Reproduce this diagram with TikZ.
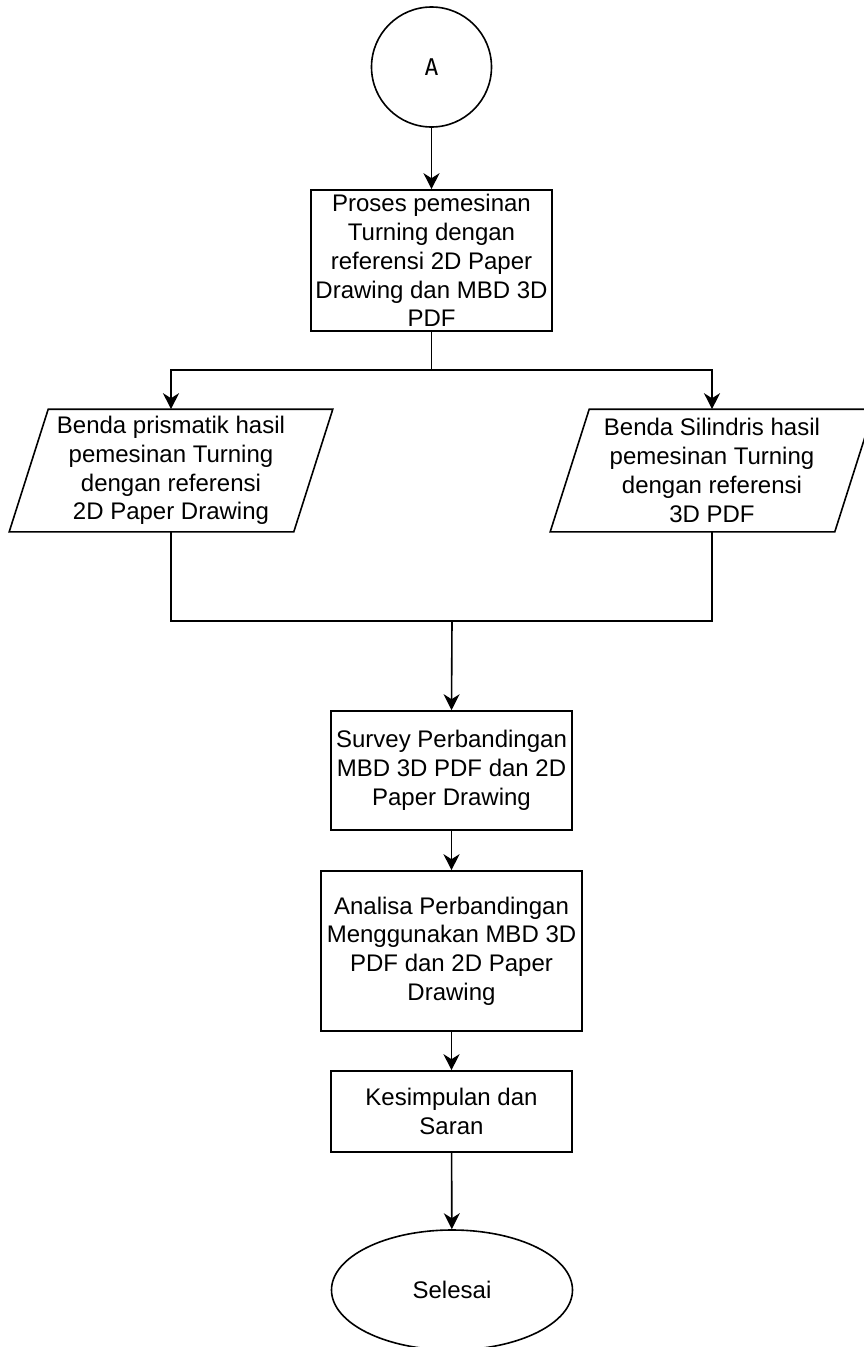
\documentclass[tikz,border=0pt]{standalone}
\usepackage{fontspec}
\setmainfont{Liberation Sans}
\newfontfamily\monofnt{DejaVu Sans Mono}
\usetikzlibrary{arrows.meta,shapes.geometric}
\begin{document}
\begin{tikzpicture}[x=1pt,y=-1pt,line width=1.6pt,
  txt/.style={inner sep=0pt,align=center,font=\fontsize{24}{28.8}\selectfont},
  box/.style={txt,draw,rectangle},
  pbox/.style={txt,rectangle,minimum width=322pt,minimum height=121pt},
  arr/.style={-{Stealth[length=16pt,width=16pt,inset=5pt]}}]
\useasboundingbox (0,0) rectangle (864,1347);
\clip (0,0) rectangle (864,1347);
% nodes
\node[draw,circle,minimum size=120pt,inner sep=0pt,font=\monofnt\fontsize{23}{26}\selectfont] (A) at (431.5,67) {A};
\node[box,minimum width=241pt,minimum height=141pt] (P) at (431.5,260.5)
  {Proses pemesinan\\Turning dengan\\referensi 2D Paper\\Drawing dan MBD 3D\\PDF};
\node[pbox] (L) at (171,470.5)
  {Benda prismatik hasil\\pemesinan Turning\\dengan referensi\\2D Paper Drawing};
\draw ([xshift=39pt]L.north west) -- (L.north east) -- ([xshift=-39pt]L.south east) -- (L.south west) -- cycle;
\node[pbox] (R) at (712,470.5)
  {Benda Silindris hasil\\pemesinan Turning\\dengan referensi\\3D PDF};
\draw ([xshift=39pt]R.north west) -- (R.north east) -- ([xshift=-39pt]R.south east) -- (R.south west) -- cycle;
\node[box,minimum width=241pt,minimum height=119pt] (S) at (451.5,770.5)
  {Survey Perbandingan\\MBD 3D PDF dan 2D\\Paper Drawing};
\node[box,minimum width=261pt,minimum height=160pt] (N) at (451.5,951)
  {Analisa Perbandingan\\Menggunakan MBD 3D\\PDF dan 2D Paper\\Drawing};
\node[box,minimum width=241pt,minimum height=81pt] (K) at (451.5,1111.5)
  {Kesimpulan dan\\Saran};
\node[txt,draw,ellipse,minimum width=241pt,minimum height=120pt] (E) at (452,1290) {Selesai};
% junctions
\coordinate (j1) at (431.5,370);
\coordinate (m) at (452,621);
% connectors
\draw[arr] (A) -- (P);
\draw (P.south) -- (j1);
\draw[arr] (j1) -| (L.north);
\draw[arr] (j1) -| (R.north);
\draw (L.south) |- (m);
\draw (R.south) |- (m);
\draw[arr] (m) -- (S.north);
\draw[arr] (S) -- (N);
\draw[arr] (N) -- (K);
\draw[arr] (K) -- (E);
\end{tikzpicture}
\end{document}
